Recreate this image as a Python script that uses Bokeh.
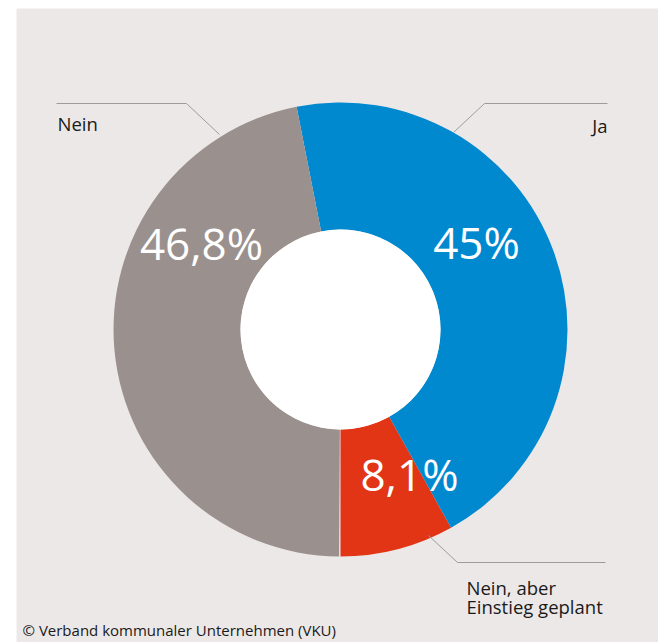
import math
from bokeh.plotting import figure
from bokeh.models import Range1d, ColumnDataSource
from bokeh.embed import file_html
from bokeh.resources import INLINE
from bokeh.core.properties import value

# ---- data ----
categories = ["Nein, aber Einstieg geplant", "Ja", "Nein"]   # drawn counter-clockwise from 6 o'clock
shares = [8.1, 45.0, 46.8]
pct_labels = ["8,1%", "45%", "46,8%"]
colors = ["#e23516", "#0089cf", "#9a908d"]
source_note = "© Verband kommunaler Unternehmen (VKU)"

# ---- layout (screen-like coordinates: x = px, y = 642 - px) ----
W, H = 658, 642
def Y(sy):
    return 642 - sy

cx, cy = 340, Y(329)
r_out, r_in = 227, 100

starts, ends = [], []
a = -math.pi / 2
for s in shares:
    starts.append(a)
    a += s / 100 * 2 * math.pi
    ends.append(a)

p = figure(width=W, height=H, output_backend="svg", toolbar_location=None,
           x_range=Range1d(16, 658), y_range=Range1d(0, 634),
           background_fill_color="#ece8e7", border_fill_color="white",
           min_border_left=16, min_border_right=0, min_border_top=8, min_border_bottom=0)
p.axis.visible = False
p.grid.visible = False
p.outline_line_color = None

src = ColumnDataSource(dict(cat=categories, val=shares, start=starts, end=ends, color=colors))
p.annular_wedge(x=cx, y=cy, inner_radius=r_in, outer_radius=r_out,
                start_angle="start", end_angle="end", fill_color="color",
                line_color=None, source=src)
p.scatter(x=[cx], y=[cy], size=2 * r_in, fill_color="white", line_color=None)

# percentage labels
lab_pos = [(409, 473), (476, 241), (201, 242)]
p.text(x=[q[0] for q in lab_pos], y=[Y(q[1]) for q in lab_pos], text=pct_labels,
       text_font=value("Open Sans"), text_font_size="44px", text_color="white",
       text_align="center", text_baseline="middle")

# leader lines
lc = "#9c9c9c"
p.line(x=[56, 186, 219], y=[Y(103), Y(103), Y(134)], line_color=lc, line_width=1)
p.line(x=[607, 484, 453], y=[Y(103), Y(103), Y(132)], line_color=lc, line_width=1)
p.line(x=[428, 457, 605], y=[Y(535), Y(562), Y(562)], line_color=lc, line_width=1)

tc = "#1a1a1a"
fs = "18.5px"
p.text(x=[57], y=[Y(123)], text=[categories[2]], text_font=value("Open Sans"),
       text_font_size=fs, text_color=tc, text_align="left", text_baseline="alphabetic")
p.text(x=[607], y=[Y(125)], text=[categories[1]], text_font=value("Open Sans"),
       text_font_size=fs, text_color=tc, text_align="right", text_baseline="alphabetic")
p.text(x=[466, 466], y=[Y(587), Y(606)], text=["Nein, aber", "Einstieg geplant"],
       text_font=value("Open Sans"), text_font_size=fs, text_color=tc,
       text_align="left", text_baseline="alphabetic")

p.text(x=[22], y=[Y(629)], text=[source_note], text_font=value("Open Sans"),
       text_font_size="15px", text_color=tc, text_align="left", text_baseline="alphabetic")

open("out.html", "w").write(file_html(p, INLINE))
